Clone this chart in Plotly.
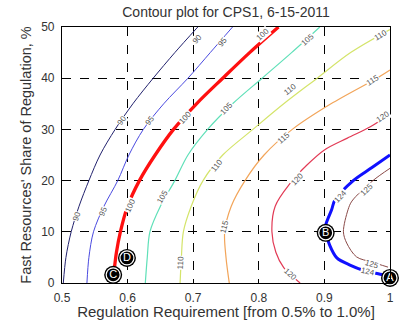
import math
import plotly.graph_objects as go

# ---- contour lines (x = regulation requirement, y = fast share %) ----
x90 = [0.502, 0.506, 0.514, 0.526, 0.541, 0.558, 0.581, 0.608, 0.639, 0.672, 0.707]
y90 = [0, 5, 10, 15, 20, 25, 30, 35, 40, 45, 50]
x95 = [0.538, 0.541, 0.548, 0.564, 0.585, 0.602, 0.624, 0.655, 0.692, 0.726, 0.760]
y95 = [0, 5, 10, 15, 20, 25, 30, 35, 40, 45, 50]
x100 = [0.580, 0.583, 0.589, 0.600, 0.618, 0.642, 0.670, 0.705, 0.745, 0.786, 0.830]
y100 = [3, 6, 10, 15, 20, 25, 30, 35, 40, 45, 50]
x105 = [0.627, 0.630, 0.634, 0.650, 0.672, 0.692, 0.722, 0.760, 0.805, 0.850, 0.893]
y105 = [0, 5, 10, 15, 20, 25, 30, 35, 40, 45, 50]
x110 = [0.680, 0.682, 0.685, 0.697, 0.715, 0.745, 0.791, 0.838, 0.889, 0.940, 1.000]
y110 = [0, 5, 10, 15, 20, 25, 30, 35, 40, 45, 49.5]
x115 = [0.755, 0.750, 0.748, 0.758, 0.779, 0.808, 0.851, 0.910, 0.980, 1.000]
y115 = [0, 5, 10, 15, 20, 25, 30, 35, 40, 41.6]
x120 = [0.863, 0.838, 0.826, 0.820, 0.825, 0.848, 0.873, 0.900, 0.935, 0.970, 1.000]
y120 = [0, 3, 6, 10, 15, 19.5, 23, 26, 28.3, 30.5, 33]
x124 = [1.000, 0.989, 0.959, 0.939, 0.919, 0.908, 0.902, 0.902, 0.911, 0.916, 0.944, 0.972, 1.000]
y124 = [1.2, 1.6, 2.5, 3.5, 4.9, 7.4, 10, 11.3, 14.3, 16.2, 20, 22.5, 25]
x125 = [0.997, 0.972, 0.949, 0.934, 0.929, 0.936, 0.942, 0.974, 1.000]
y125 = [3.1, 4.1, 5.1, 7.8, 10, 14.3, 16, 20, 22.4]

levels = ["90", "95", "100", "105", "110", "115", "120", "124", "125"]
line_x = [x90, x95, x100, x105, x110, x115, x120, x124, x125]
line_y = [y90, y95, y100, y105, y110, y115, y120, y124, y125]
line_colors = ["#22226e", "#4a4ae0", "#ff1010", "#5fe0b8", "#d4e46a", "#f2a55a",
               "#e23a55", "#1010ff", "#8a4a48"]
line_widths = [1, 1, 3.3, 1.2, 1.2, 1.2, 1.2, 3, 1]

# contour labels (level, x, y)
label_lvl = ["90", "90", "90", "95", "95", "95", "100", "100", "100",
             "105", "105", "105", "110", "110", "110", "110", "115", "115", "115",
             "120", "120", "120", "124", "124", "125", "125"]
label_x = [0.706, 0.591, 0.523, 0.744, 0.634, 0.563, 0.806, 0.688, 0.604,
           0.875, 0.751, 0.654, 0.985, 0.848, 0.736, 0.681, 0.973, 0.837, 0.748,
           0.990, 0.858, 0.848, 0.925, 0.966, 0.965, 0.973]
label_y = [47.5, 31.8, 12.9, 47, 31.8, 13.9, 48.5, 32.4, 15.2,
           47.5, 34, 16.8, 48.4, 37.7, 23, 4, 39.6, 28.3, 11,
           32.5, 20.3, 1.6, 16.8, 2.3, 18.2, 3.6]

# marked points
pt_x = [1.0, 0.902, 0.578, 0.599]
pt_y = [1.0, 9.8, 1.6, 4.9]
pt_txt = ["A", "B", "C", "D"]

x_ticks = [0.5, 0.6, 0.7, 0.8, 0.9, 1.0]
x_tick_txt = ["0.5", "0.6", "0.7", "0.8", "0.9", "1"]
y_ticks = [0, 10, 20, 30, 40, 50]

# plot area pixel size (for label rotation along lines)
PX_W, PX_H = 328, 256
XR, YR = (0.5, 1.0), (0, 50)

fig = go.Figure()
for lx, ly, c, w in zip(line_x, line_y, line_colors, line_widths):
    fig.add_trace(go.Scatter(x=lx, y=ly, mode="lines",
                             line=dict(color=c, width=w, shape="spline", smoothing=0.9),
                             hoverinfo="skip", showlegend=False, cliponaxis=True))


def angle_at(lx, ly, px, py):
    best, ang = 1e9, 0
    for i in range(len(lx) - 1):
        mx, my = (lx[i] + lx[i + 1]) / 2, (ly[i] + ly[i + 1]) / 2
        d = ((mx - px) * PX_W / 0.5) ** 2 + ((my - py) * PX_H / 50) ** 2
        if d < best:
            best = d
            dx = (lx[i + 1] - lx[i]) * PX_W / 0.5
            dy = (ly[i + 1] - ly[i]) * PX_H / 50
            a = -math.degrees(math.atan2(dy, dx))
            if a > 90:
                a -= 180
            if a <= -90:
                a += 180
            ang = a
    return ang


for lv, lx_, ly_ in zip(label_lvl, label_x, label_y):
    k = levels.index(lv)
    a = angle_at(line_x[k], line_y[k], lx_, ly_)
    fig.add_annotation(x=lx_, y=ly_, text=lv, showarrow=False, textangle=a,
                       font=dict(size=8, color="#555555", family="Arial, Liberation Sans"),
                       bgcolor="white", borderpad=0)

# point markers: black disc, white ring, letter
fig.add_trace(go.Scatter(x=pt_x, y=pt_y, mode="markers",
                         marker=dict(size=18, color="black"),
                         hoverinfo="skip", showlegend=False, cliponaxis=False))
fig.add_trace(go.Scatter(x=pt_x, y=pt_y, mode="markers+text", text=pt_txt,
                         textposition="middle center",
                         textfont=dict(size=11, color="white", family="Arial Black, Liberation Sans"),
                         marker=dict(size=14, color="black", line=dict(color="white", width=1.2)),
                         hoverinfo="skip", showlegend=False, cliponaxis=False))

FONT = "Arial, Liberation Sans"
tick_font = dict(family=FONT, size=12, color="#333333")
fig.update_layout(
    width=400, height=320,
    margin=dict(l=62, r=10, t=27, b=37, autoexpand=False),
    paper_bgcolor="white", plot_bgcolor="white",
    title=dict(text="Contour plot for CPS1, 6-15-2011", x=0.565, xanchor="center",
               y=0.962, yanchor="middle",
               font=dict(family=FONT, size=14, color="#333333")),
    font=tick_font,
)
fig.update_xaxes(range=list(XR), tickvals=x_ticks, ticktext=x_tick_txt, automargin=False,
                 showgrid=True, gridcolor="black", griddash="dash", gridwidth=1,
                 showline=True, linecolor="black", linewidth=1.2, mirror=True,
                 ticks="inside", ticklen=4, tickcolor="black", zeroline=False,
                 tickfont=tick_font, ticklabelstandoff=3,
                 title=dict(text="Regulation Requirement [from 0.5% to 1.0%]",
                            font=dict(family=FONT, size=15, color="#333333"), standoff=0))
fig.update_yaxes(range=list(YR), tickvals=y_ticks, automargin=False,
                 showgrid=True, gridcolor="black", griddash="dash", gridwidth=1,
                 showline=True, linecolor="black", linewidth=1.2, mirror=True,
                 ticks="inside", ticklen=4, tickcolor="black", zeroline=False,
                 tickfont=tick_font, ticklabelstandoff=4,
                 title=dict(text="Fast Resources' Share of Regulation, %",
                            font=dict(family=FONT, size=14.5, color="#333333"), standoff=6))

fig.write_html("out.html")
